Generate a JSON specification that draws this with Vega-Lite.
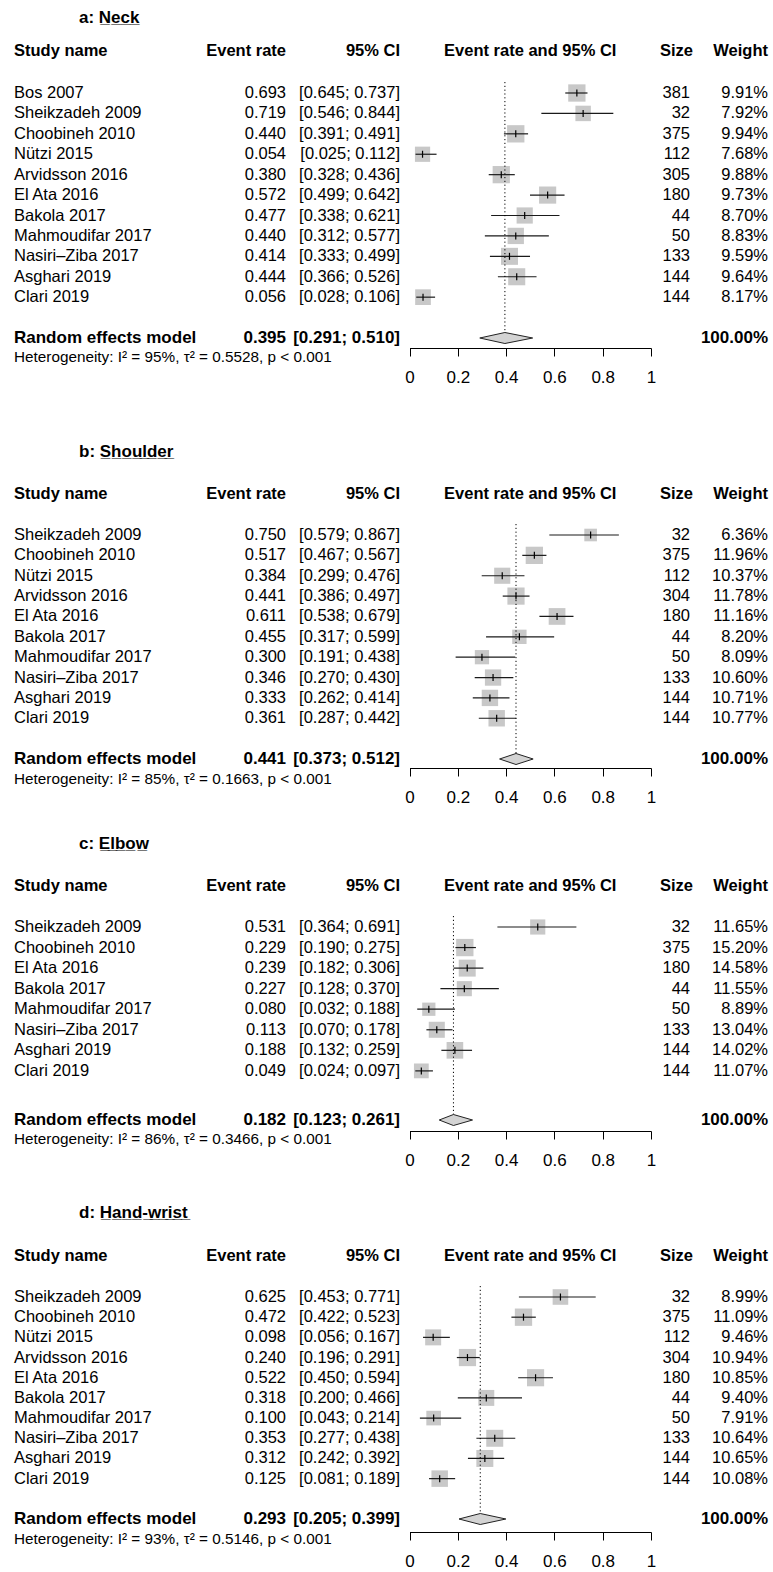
{
"$schema":"https://vega.github.io/schema/vega-lite/v6.json",
"padding":0,"spacing":0,"bounds":"flush","background":"white",
"resolve":{"scale":{"x":"independent","y":"independent","size":"independent","yOffset":"independent"}},
"config":{"view":{"stroke":null},"text":{"font":"Liberation Sans","fontSize":16.5,"color":"#000"},
"axis":{"grid":false,"domainColor":"#000","tickColor":"#000","tickSize":8,"labelFontSize":17,"labelFont":"Liberation Sans","labelColor":"#000","labelPadding":13,"labelFlush":false,"labelOverlap":false,"labelBound":false,"domainWidth":1,"tickWidth":1}},
"datasets":{
"a":[{"name":"Bos 2007","er":0.693,"lo":0.645,"hi":0.737,"n":381,"w":0.0991},{"name":"Sheikzadeh 2009","er":0.719,"lo":0.546,"hi":0.844,"n":32,"w":0.0792},{"name":"Choobineh 2010","er":0.440,"lo":0.391,"hi":0.491,"n":375,"w":0.0994},{"name":"Nützi 2015","er":0.054,"lo":0.025,"hi":0.112,"n":112,"w":0.0768},{"name":"Arvidsson 2016","er":0.380,"lo":0.328,"hi":0.436,"n":305,"w":0.0988},{"name":"El Ata 2016","er":0.572,"lo":0.499,"hi":0.642,"n":180,"w":0.0973},{"name":"Bakola 2017","er":0.477,"lo":0.338,"hi":0.621,"n":44,"w":0.0870},{"name":"Mahmoudifar 2017","er":0.440,"lo":0.312,"hi":0.577,"n":50,"w":0.0883},{"name":"Nasiri–Ziba 2017","er":0.414,"lo":0.333,"hi":0.499,"n":133,"w":0.0959},{"name":"Asghari 2019","er":0.444,"lo":0.366,"hi":0.526,"n":144,"w":0.0964},{"name":"Clari 2019","er":0.056,"lo":0.028,"hi":0.106,"n":144,"w":0.0817}],
"ar":[{"name":"Random effects model","er":0.395,"lo":0.291,"hi":0.510,"w":1,"het":"Heterogeneity: I² = 95%, τ² = 0.5528, p < 0.001","title":"a: N\u0332e\u0332c\u0332k\u0332"}],
"ad":[{"tri":"u","pos":"mid","v":0.291},{"tri":"u","pos":"top","v":0.395},{"tri":"u","pos":"mid","v":0.510},{"tri":"l","pos":"mid","v":0.291},{"tri":"l","pos":"bot","v":0.395},{"tri":"l","pos":"mid","v":0.510}],
"b":[{"name":"Sheikzadeh 2009","er":0.750,"lo":0.579,"hi":0.867,"n":32,"w":0.0636},{"name":"Choobineh 2010","er":0.517,"lo":0.467,"hi":0.567,"n":375,"w":0.1196},{"name":"Nützi 2015","er":0.384,"lo":0.299,"hi":0.476,"n":112,"w":0.1037},{"name":"Arvidsson 2016","er":0.441,"lo":0.386,"hi":0.497,"n":304,"w":0.1178},{"name":"El Ata 2016","er":0.611,"lo":0.538,"hi":0.679,"n":180,"w":0.1116},{"name":"Bakola 2017","er":0.455,"lo":0.317,"hi":0.599,"n":44,"w":0.0820},{"name":"Mahmoudifar 2017","er":0.300,"lo":0.191,"hi":0.438,"n":50,"w":0.0809},{"name":"Nasiri–Ziba 2017","er":0.346,"lo":0.270,"hi":0.430,"n":133,"w":0.1060},{"name":"Asghari 2019","er":0.333,"lo":0.262,"hi":0.414,"n":144,"w":0.1071},{"name":"Clari 2019","er":0.361,"lo":0.287,"hi":0.442,"n":144,"w":0.1077}],
"br":[{"name":"Random effects model","er":0.441,"lo":0.373,"hi":0.512,"w":1,"het":"Heterogeneity: I² = 85%, τ² = 0.1663, p < 0.001","title":"b: S\u0332h\u0332o\u0332u\u0332l\u0332d\u0332e\u0332r\u0332"}],
"bd":[{"tri":"u","pos":"mid","v":0.373},{"tri":"u","pos":"top","v":0.441},{"tri":"u","pos":"mid","v":0.512},{"tri":"l","pos":"mid","v":0.373},{"tri":"l","pos":"bot","v":0.441},{"tri":"l","pos":"mid","v":0.512}],
"c":[{"name":"Sheikzadeh 2009","er":0.531,"lo":0.364,"hi":0.691,"n":32,"w":0.1165},{"name":"Choobineh 2010","er":0.229,"lo":0.190,"hi":0.275,"n":375,"w":0.1520},{"name":"El Ata 2016","er":0.239,"lo":0.182,"hi":0.306,"n":180,"w":0.1458},{"name":"Bakola 2017","er":0.227,"lo":0.128,"hi":0.370,"n":44,"w":0.1155},{"name":"Mahmoudifar 2017","er":0.080,"lo":0.032,"hi":0.188,"n":50,"w":0.0889},{"name":"Nasiri–Ziba 2017","er":0.113,"lo":0.070,"hi":0.178,"n":133,"w":0.1304},{"name":"Asghari 2019","er":0.188,"lo":0.132,"hi":0.259,"n":144,"w":0.1402},{"name":"Clari 2019","er":0.049,"lo":0.024,"hi":0.097,"n":144,"w":0.1107}],
"cr":[{"name":"Random effects model","er":0.182,"lo":0.123,"hi":0.261,"w":1,"het":"Heterogeneity: I² = 86%, τ² = 0.3466, p < 0.001","title":"c: E\u0332l\u0332b\u0332o\u0332w\u0332"}],
"cd":[{"tri":"u","pos":"mid","v":0.123},{"tri":"u","pos":"top","v":0.182},{"tri":"u","pos":"mid","v":0.261},{"tri":"l","pos":"mid","v":0.123},{"tri":"l","pos":"bot","v":0.182},{"tri":"l","pos":"mid","v":0.261}],
"d":[{"name":"Sheikzadeh 2009","er":0.625,"lo":0.453,"hi":0.771,"n":32,"w":0.0899},{"name":"Choobineh 2010","er":0.472,"lo":0.422,"hi":0.523,"n":375,"w":0.1109},{"name":"Nützi 2015","er":0.098,"lo":0.056,"hi":0.167,"n":112,"w":0.0946},{"name":"Arvidsson 2016","er":0.240,"lo":0.196,"hi":0.291,"n":304,"w":0.1094},{"name":"El Ata 2016","er":0.522,"lo":0.450,"hi":0.594,"n":180,"w":0.1085},{"name":"Bakola 2017","er":0.318,"lo":0.200,"hi":0.466,"n":44,"w":0.0940},{"name":"Mahmoudifar 2017","er":0.100,"lo":0.043,"hi":0.214,"n":50,"w":0.0791},{"name":"Nasiri–Ziba 2017","er":0.353,"lo":0.277,"hi":0.438,"n":133,"w":0.1064},{"name":"Asghari 2019","er":0.312,"lo":0.242,"hi":0.392,"n":144,"w":0.1065},{"name":"Clari 2019","er":0.125,"lo":0.081,"hi":0.189,"n":144,"w":0.1008}],
"dr":[{"name":"Random effects model","er":0.293,"lo":0.205,"hi":0.399,"w":1,"het":"Heterogeneity: I² = 93%, τ² = 0.5146, p < 0.001","title":"d: H\u0332a\u0332n\u0332d\u0332-\u0332w\u0332r\u0332i\u0332s\u0332t\u0332"}],
"dd":[{"tri":"u","pos":"mid","v":0.205},{"tri":"u","pos":"top","v":0.293},{"tri":"u","pos":"mid","v":0.399},{"tri":"l","pos":"mid","v":0.205},{"tri":"l","pos":"bot","v":0.293},{"tri":"l","pos":"mid","v":0.399}]
},
"vconcat":[
{"width":773,"height":348,"layer":[
{"data":{"name":"a"},"mark":{"type":"square","color":"#c8c8c8","opacity":1},"encoding":{"x":{"field":"er","type":"quantitative","scale":{"domain":[0,1],"range":[409.5,651],"nice":false,"zero":false},"axis":{"values":[0,0.2,0.4,0.6,0.8,1],"format":"~g","title":null}},"y":{"field":"name","type":"nominal","scale":{"type":"point","padding":0,"range":[93,338],"domain":["Bos 2007","Sheikzadeh 2009","Choobineh 2010","Nützi 2015","Arvidsson 2016","El Ata 2016","Bakola 2017","Mahmoudifar 2017","Nasiri–Ziba 2017","Asghari 2019","Clari 2019","gap","Random effects model"]},"axis":null},"size":{"field":"w","type":"quantitative","scale":{"domain":[0,0.0994],"range":[0,300]},"legend":null}}},
{"data":{"name":"a"},"mark":{"type":"rule","color":"#1a1a1a","strokeWidth":1.2},"encoding":{"x":{"field":"lo","type":"quantitative","axis":{"values":[0,0.2,0.4,0.6,0.8,1],"format":"~g","title":null}},"x2":{"field":"hi"},"y":{"field":"name","type":"nominal","axis":null}}},
{"data":{"name":"a"},"mark":{"type":"tick","orient":"vertical","size":7,"thickness":1.2,"color":"#000","opacity":1},"encoding":{"x":{"field":"er","type":"quantitative","axis":{"values":[0,0.2,0.4,0.6,0.8,1],"format":"~g","title":null}},"y":{"field":"name","type":"nominal","axis":null}}},
{"data":{"name":"a"},"mark":{"type":"text","align":"left"},"encoding":{"x":{"datum":-1.6377,"type":"quantitative","axis":{"values":[0,0.2,0.4,0.6,0.8,1],"format":"~g","title":null}},"y":{"field":"name","type":"nominal","axis":null},"text":{"field":"name"}}},
{"data":{"name":"a"},"mark":{"type":"text","align":"right"},"encoding":{"x":{"datum":-0.5114,"type":"quantitative","axis":{"values":[0,0.2,0.4,0.6,0.8,1],"format":"~g","title":null}},"y":{"field":"name","type":"nominal","axis":null},"text":{"field":"er","type":"quantitative","format":".3f"}}},
{"data":{"name":"a"},"transform":[{"calculate":"'[' + format(datum.lo,'.3f') + '; ' + format(datum.hi,'.3f') + ']'","as":"ci"}],"mark":{"type":"text","align":"right"},"encoding":{"x":{"datum":-0.0393,"type":"quantitative","axis":{"values":[0,0.2,0.4,0.6,0.8,1],"format":"~g","title":null}},"y":{"field":"name","type":"nominal","axis":null},"text":{"field":"ci"}}},
{"data":{"name":"a"},"mark":{"type":"text","align":"right"},"encoding":{"x":{"datum":1.1615,"type":"quantitative","axis":{"values":[0,0.2,0.4,0.6,0.8,1],"format":"~g","title":null}},"y":{"field":"name","type":"nominal","axis":null},"text":{"field":"n","type":"quantitative","format":"d"}}},
{"data":{"name":"a"},"mark":{"type":"text","align":"right"},"encoding":{"x":{"datum":1.4845,"type":"quantitative","axis":{"values":[0,0.2,0.4,0.6,0.8,1],"format":"~g","title":null}},"y":{"field":"name","type":"nominal","axis":null},"text":{"field":"w","type":"quantitative","format":".2%"}}},
{"data":{"name":"ar"},"mark":{"type":"rule","color":"#000","strokeWidth":1,"strokeDash":[1.2,2.6],"yOffset":-11,"y2Offset":-5.5},"encoding":{"x":{"field":"er","type":"quantitative","axis":{"values":[0,0.2,0.4,0.6,0.8,1],"format":"~g","title":null}},"y":{"datum":"Bos 2007","type":"nominal","axis":null},"y2":{"datum":"Random effects model"}}},
{"data":{"name":"ad"},"mark":{"type":"line","fill":"#d3d3d3","stroke":"#222","strokeWidth":1},"encoding":{"x":{"field":"v","type":"quantitative","axis":{"values":[0,0.2,0.4,0.6,0.8,1],"format":"~g","title":null}},"y":{"datum":"Random effects model","type":"nominal","axis":null},"yOffset":{"field":"pos","type":"nominal","scale":{"type":"point","domain":["top","mid","bot"],"range":[-5.5,5.5],"padding":0}},"detail":{"field":"tri"}}},
{"data":{"name":"ar"},"mark":{"type":"text","align":"left","fontWeight":"bold","fontSize":17},"encoding":{"x":{"datum":-1.6377,"type":"quantitative","axis":{"values":[0,0.2,0.4,0.6,0.8,1],"format":"~g","title":null}},"y":{"datum":"Random effects model","type":"nominal","axis":null},"text":{"field":"name"}}},
{"data":{"name":"ar"},"mark":{"type":"text","align":"right","fontWeight":"bold","fontSize":17},"encoding":{"x":{"datum":-0.5114,"type":"quantitative","axis":{"values":[0,0.2,0.4,0.6,0.8,1],"format":"~g","title":null}},"y":{"datum":"Random effects model","type":"nominal","axis":null},"text":{"field":"er","type":"quantitative","format":".3f"}}},
{"data":{"name":"ar"},"transform":[{"calculate":"'[' + format(datum.lo,'.3f') + '; ' + format(datum.hi,'.3f') + ']'","as":"ci"}],"mark":{"type":"text","align":"right","fontWeight":"bold","fontSize":17},"encoding":{"x":{"datum":-0.0393,"type":"quantitative","axis":{"values":[0,0.2,0.4,0.6,0.8,1],"format":"~g","title":null}},"y":{"datum":"Random effects model","type":"nominal","axis":null},"text":{"field":"ci"}}},
{"data":{"name":"ar"},"mark":{"type":"text","align":"right","fontWeight":"bold","fontSize":17},"encoding":{"x":{"datum":1.4845,"type":"quantitative","axis":{"values":[0,0.2,0.4,0.6,0.8,1],"format":"~g","title":null}},"y":{"datum":"Random effects model","type":"nominal","axis":null},"text":{"field":"w","type":"quantitative","format":".2%"}}},
{"data":{"name":"ar"},"mark":{"type":"text","align":"left","fontSize":15.3,"dy":19},"encoding":{"x":{"datum":-1.6377,"type":"quantitative","axis":{"values":[0,0.2,0.4,0.6,0.8,1],"format":"~g","title":null}},"y":{"datum":"Random effects model","type":"nominal","axis":null},"text":{"field":"het"}}},
{"data":{"name":"ar"},"mark":{"type":"text","align":"left","fontWeight":"bold","fontSize":17,"dy":-75},"encoding":{"x":{"datum":-1.3685,"type":"quantitative","axis":{"values":[0,0.2,0.4,0.6,0.8,1],"format":"~g","title":null}},"y":{"datum":"Bos 2007","type":"nominal","axis":null},"text":{"field":"title"}}},
{"data":{"name":"ar"},"mark":{"type":"text","align":"left","fontWeight":"bold","dy":-42,"text":"Study name"},"encoding":{"x":{"datum":-1.6377,"type":"quantitative","axis":{"values":[0,0.2,0.4,0.6,0.8,1],"format":"~g","title":null}},"y":{"datum":"Bos 2007","type":"nominal","axis":null}}},
{"data":{"name":"ar"},"mark":{"type":"text","align":"right","fontWeight":"bold","dy":-42,"text":"Event rate"},"encoding":{"x":{"datum":-0.5114,"type":"quantitative","axis":{"values":[0,0.2,0.4,0.6,0.8,1],"format":"~g","title":null}},"y":{"datum":"Bos 2007","type":"nominal","axis":null}}},
{"data":{"name":"ar"},"mark":{"type":"text","align":"right","fontWeight":"bold","dy":-42,"text":"95% CI"},"encoding":{"x":{"datum":-0.0393,"type":"quantitative","axis":{"values":[0,0.2,0.4,0.6,0.8,1],"format":"~g","title":null}},"y":{"datum":"Bos 2007","type":"nominal","axis":null}}},
{"data":{"name":"ar"},"mark":{"type":"text","align":"center","fontWeight":"bold","dy":-42,"text":"Event rate and 95% CI"},"encoding":{"x":{"datum":0.5,"type":"quantitative","axis":{"values":[0,0.2,0.4,0.6,0.8,1],"format":"~g","title":null}},"y":{"datum":"Bos 2007","type":"nominal","axis":null}}},
{"data":{"name":"ar"},"mark":{"type":"text","align":"right","fontWeight":"bold","dy":-42,"text":"Size"},"encoding":{"x":{"datum":1.1739,"type":"quantitative","axis":{"values":[0,0.2,0.4,0.6,0.8,1],"format":"~g","title":null}},"y":{"datum":"Bos 2007","type":"nominal","axis":null}}},
{"data":{"name":"ar"},"mark":{"type":"text","align":"right","fontWeight":"bold","dy":-42,"text":"Weight"},"encoding":{"x":{"datum":1.4845,"type":"quantitative","axis":{"values":[0,0.2,0.4,0.6,0.8,1],"format":"~g","title":null}},"y":{"datum":"Bos 2007","type":"nominal","axis":null}}}
]},
{"width":773,"height":420,"layer":[
{"data":{"name":"b"},"mark":{"type":"square","color":"#c8c8c8","opacity":1},"encoding":{"x":{"field":"er","type":"quantitative","scale":{"domain":[0,1],"range":[409.5,651],"nice":false,"zero":false},"axis":{"values":[0,0.2,0.4,0.6,0.8,1],"format":"~g","title":null}},"y":{"field":"name","type":"nominal","scale":{"type":"point","padding":0,"range":[187,411],"domain":["Sheikzadeh 2009","Choobineh 2010","Nützi 2015","Arvidsson 2016","El Ata 2016","Bakola 2017","Mahmoudifar 2017","Nasiri–Ziba 2017","Asghari 2019","Clari 2019","gap","Random effects model"]},"axis":null},"size":{"field":"w","type":"quantitative","scale":{"domain":[0,0.1196],"range":[0,300]},"legend":null}}},
{"data":{"name":"b"},"mark":{"type":"rule","color":"#1a1a1a","strokeWidth":1.2},"encoding":{"x":{"field":"lo","type":"quantitative","axis":{"values":[0,0.2,0.4,0.6,0.8,1],"format":"~g","title":null}},"x2":{"field":"hi"},"y":{"field":"name","type":"nominal","axis":null}}},
{"data":{"name":"b"},"mark":{"type":"tick","orient":"vertical","size":7,"thickness":1.2,"color":"#000","opacity":1},"encoding":{"x":{"field":"er","type":"quantitative","axis":{"values":[0,0.2,0.4,0.6,0.8,1],"format":"~g","title":null}},"y":{"field":"name","type":"nominal","axis":null}}},
{"data":{"name":"b"},"mark":{"type":"text","align":"left"},"encoding":{"x":{"datum":-1.6377,"type":"quantitative","axis":{"values":[0,0.2,0.4,0.6,0.8,1],"format":"~g","title":null}},"y":{"field":"name","type":"nominal","axis":null},"text":{"field":"name"}}},
{"data":{"name":"b"},"mark":{"type":"text","align":"right"},"encoding":{"x":{"datum":-0.5114,"type":"quantitative","axis":{"values":[0,0.2,0.4,0.6,0.8,1],"format":"~g","title":null}},"y":{"field":"name","type":"nominal","axis":null},"text":{"field":"er","type":"quantitative","format":".3f"}}},
{"data":{"name":"b"},"transform":[{"calculate":"'[' + format(datum.lo,'.3f') + '; ' + format(datum.hi,'.3f') + ']'","as":"ci"}],"mark":{"type":"text","align":"right"},"encoding":{"x":{"datum":-0.0393,"type":"quantitative","axis":{"values":[0,0.2,0.4,0.6,0.8,1],"format":"~g","title":null}},"y":{"field":"name","type":"nominal","axis":null},"text":{"field":"ci"}}},
{"data":{"name":"b"},"mark":{"type":"text","align":"right"},"encoding":{"x":{"datum":1.1615,"type":"quantitative","axis":{"values":[0,0.2,0.4,0.6,0.8,1],"format":"~g","title":null}},"y":{"field":"name","type":"nominal","axis":null},"text":{"field":"n","type":"quantitative","format":"d"}}},
{"data":{"name":"b"},"mark":{"type":"text","align":"right"},"encoding":{"x":{"datum":1.4845,"type":"quantitative","axis":{"values":[0,0.2,0.4,0.6,0.8,1],"format":"~g","title":null}},"y":{"field":"name","type":"nominal","axis":null},"text":{"field":"w","type":"quantitative","format":".2%"}}},
{"data":{"name":"br"},"mark":{"type":"rule","color":"#000","strokeWidth":1,"strokeDash":[1.2,2.6],"yOffset":-11,"y2Offset":-5.5},"encoding":{"x":{"field":"er","type":"quantitative","axis":{"values":[0,0.2,0.4,0.6,0.8,1],"format":"~g","title":null}},"y":{"datum":"Sheikzadeh 2009","type":"nominal","axis":null},"y2":{"datum":"Random effects model"}}},
{"data":{"name":"bd"},"mark":{"type":"line","fill":"#d3d3d3","stroke":"#222","strokeWidth":1},"encoding":{"x":{"field":"v","type":"quantitative","axis":{"values":[0,0.2,0.4,0.6,0.8,1],"format":"~g","title":null}},"y":{"datum":"Random effects model","type":"nominal","axis":null},"yOffset":{"field":"pos","type":"nominal","scale":{"type":"point","domain":["top","mid","bot"],"range":[-5.5,5.5],"padding":0}},"detail":{"field":"tri"}}},
{"data":{"name":"br"},"mark":{"type":"text","align":"left","fontWeight":"bold","fontSize":17},"encoding":{"x":{"datum":-1.6377,"type":"quantitative","axis":{"values":[0,0.2,0.4,0.6,0.8,1],"format":"~g","title":null}},"y":{"datum":"Random effects model","type":"nominal","axis":null},"text":{"field":"name"}}},
{"data":{"name":"br"},"mark":{"type":"text","align":"right","fontWeight":"bold","fontSize":17},"encoding":{"x":{"datum":-0.5114,"type":"quantitative","axis":{"values":[0,0.2,0.4,0.6,0.8,1],"format":"~g","title":null}},"y":{"datum":"Random effects model","type":"nominal","axis":null},"text":{"field":"er","type":"quantitative","format":".3f"}}},
{"data":{"name":"br"},"transform":[{"calculate":"'[' + format(datum.lo,'.3f') + '; ' + format(datum.hi,'.3f') + ']'","as":"ci"}],"mark":{"type":"text","align":"right","fontWeight":"bold","fontSize":17},"encoding":{"x":{"datum":-0.0393,"type":"quantitative","axis":{"values":[0,0.2,0.4,0.6,0.8,1],"format":"~g","title":null}},"y":{"datum":"Random effects model","type":"nominal","axis":null},"text":{"field":"ci"}}},
{"data":{"name":"br"},"mark":{"type":"text","align":"right","fontWeight":"bold","fontSize":17},"encoding":{"x":{"datum":1.4845,"type":"quantitative","axis":{"values":[0,0.2,0.4,0.6,0.8,1],"format":"~g","title":null}},"y":{"datum":"Random effects model","type":"nominal","axis":null},"text":{"field":"w","type":"quantitative","format":".2%"}}},
{"data":{"name":"br"},"mark":{"type":"text","align":"left","fontSize":15.3,"dy":20},"encoding":{"x":{"datum":-1.6377,"type":"quantitative","axis":{"values":[0,0.2,0.4,0.6,0.8,1],"format":"~g","title":null}},"y":{"datum":"Random effects model","type":"nominal","axis":null},"text":{"field":"het"}}},
{"data":{"name":"br"},"mark":{"type":"text","align":"left","fontWeight":"bold","fontSize":17,"dy":-83},"encoding":{"x":{"datum":-1.3685,"type":"quantitative","axis":{"values":[0,0.2,0.4,0.6,0.8,1],"format":"~g","title":null}},"y":{"datum":"Sheikzadeh 2009","type":"nominal","axis":null},"text":{"field":"title"}}},
{"data":{"name":"br"},"mark":{"type":"text","align":"left","fontWeight":"bold","dy":-41,"text":"Study name"},"encoding":{"x":{"datum":-1.6377,"type":"quantitative","axis":{"values":[0,0.2,0.4,0.6,0.8,1],"format":"~g","title":null}},"y":{"datum":"Sheikzadeh 2009","type":"nominal","axis":null}}},
{"data":{"name":"br"},"mark":{"type":"text","align":"right","fontWeight":"bold","dy":-41,"text":"Event rate"},"encoding":{"x":{"datum":-0.5114,"type":"quantitative","axis":{"values":[0,0.2,0.4,0.6,0.8,1],"format":"~g","title":null}},"y":{"datum":"Sheikzadeh 2009","type":"nominal","axis":null}}},
{"data":{"name":"br"},"mark":{"type":"text","align":"right","fontWeight":"bold","dy":-41,"text":"95% CI"},"encoding":{"x":{"datum":-0.0393,"type":"quantitative","axis":{"values":[0,0.2,0.4,0.6,0.8,1],"format":"~g","title":null}},"y":{"datum":"Sheikzadeh 2009","type":"nominal","axis":null}}},
{"data":{"name":"br"},"mark":{"type":"text","align":"center","fontWeight":"bold","dy":-41,"text":"Event rate and 95% CI"},"encoding":{"x":{"datum":0.5,"type":"quantitative","axis":{"values":[0,0.2,0.4,0.6,0.8,1],"format":"~g","title":null}},"y":{"datum":"Sheikzadeh 2009","type":"nominal","axis":null}}},
{"data":{"name":"br"},"mark":{"type":"text","align":"right","fontWeight":"bold","dy":-41,"text":"Size"},"encoding":{"x":{"datum":1.1739,"type":"quantitative","axis":{"values":[0,0.2,0.4,0.6,0.8,1],"format":"~g","title":null}},"y":{"datum":"Sheikzadeh 2009","type":"nominal","axis":null}}},
{"data":{"name":"br"},"mark":{"type":"text","align":"right","fontWeight":"bold","dy":-41,"text":"Weight"},"encoding":{"x":{"datum":1.4845,"type":"quantitative","axis":{"values":[0,0.2,0.4,0.6,0.8,1],"format":"~g","title":null}},"y":{"datum":"Sheikzadeh 2009","type":"nominal","axis":null}}}
]},
{"width":773,"height":363,"layer":[
{"data":{"name":"c"},"mark":{"type":"square","color":"#c8c8c8","opacity":1},"encoding":{"x":{"field":"er","type":"quantitative","scale":{"domain":[0,1],"range":[409.5,651],"nice":false,"zero":false},"axis":{"values":[0,0.2,0.4,0.6,0.8,1],"format":"~g","title":null}},"y":{"field":"name","type":"nominal","scale":{"type":"point","padding":0,"range":[159,344],"domain":["Sheikzadeh 2009","Choobineh 2010","El Ata 2016","Bakola 2017","Mahmoudifar 2017","Nasiri–Ziba 2017","Asghari 2019","Clari 2019","gap","Random effects model"]},"axis":null},"size":{"field":"w","type":"quantitative","scale":{"domain":[0,0.152],"range":[0,300]},"legend":null}}},
{"data":{"name":"c"},"mark":{"type":"rule","color":"#1a1a1a","strokeWidth":1.2},"encoding":{"x":{"field":"lo","type":"quantitative","axis":{"values":[0,0.2,0.4,0.6,0.8,1],"format":"~g","title":null}},"x2":{"field":"hi"},"y":{"field":"name","type":"nominal","axis":null}}},
{"data":{"name":"c"},"mark":{"type":"tick","orient":"vertical","size":7,"thickness":1.2,"color":"#000","opacity":1},"encoding":{"x":{"field":"er","type":"quantitative","axis":{"values":[0,0.2,0.4,0.6,0.8,1],"format":"~g","title":null}},"y":{"field":"name","type":"nominal","axis":null}}},
{"data":{"name":"c"},"mark":{"type":"text","align":"left"},"encoding":{"x":{"datum":-1.6377,"type":"quantitative","axis":{"values":[0,0.2,0.4,0.6,0.8,1],"format":"~g","title":null}},"y":{"field":"name","type":"nominal","axis":null},"text":{"field":"name"}}},
{"data":{"name":"c"},"mark":{"type":"text","align":"right"},"encoding":{"x":{"datum":-0.5114,"type":"quantitative","axis":{"values":[0,0.2,0.4,0.6,0.8,1],"format":"~g","title":null}},"y":{"field":"name","type":"nominal","axis":null},"text":{"field":"er","type":"quantitative","format":".3f"}}},
{"data":{"name":"c"},"transform":[{"calculate":"'[' + format(datum.lo,'.3f') + '; ' + format(datum.hi,'.3f') + ']'","as":"ci"}],"mark":{"type":"text","align":"right"},"encoding":{"x":{"datum":-0.0393,"type":"quantitative","axis":{"values":[0,0.2,0.4,0.6,0.8,1],"format":"~g","title":null}},"y":{"field":"name","type":"nominal","axis":null},"text":{"field":"ci"}}},
{"data":{"name":"c"},"mark":{"type":"text","align":"right"},"encoding":{"x":{"datum":1.1615,"type":"quantitative","axis":{"values":[0,0.2,0.4,0.6,0.8,1],"format":"~g","title":null}},"y":{"field":"name","type":"nominal","axis":null},"text":{"field":"n","type":"quantitative","format":"d"}}},
{"data":{"name":"c"},"mark":{"type":"text","align":"right"},"encoding":{"x":{"datum":1.4845,"type":"quantitative","axis":{"values":[0,0.2,0.4,0.6,0.8,1],"format":"~g","title":null}},"y":{"field":"name","type":"nominal","axis":null},"text":{"field":"w","type":"quantitative","format":".2%"}}},
{"data":{"name":"cr"},"mark":{"type":"rule","color":"#000","strokeWidth":1,"strokeDash":[1.2,2.6],"yOffset":-11,"y2Offset":2.5},"encoding":{"x":{"field":"er","type":"quantitative","axis":{"values":[0,0.2,0.4,0.6,0.8,1],"format":"~g","title":null}},"y":{"datum":"Sheikzadeh 2009","type":"nominal","axis":null},"y2":{"datum":"Random effects model"}}},
{"data":{"name":"cd"},"mark":{"type":"line","fill":"#d3d3d3","stroke":"#222","strokeWidth":1},"encoding":{"x":{"field":"v","type":"quantitative","axis":{"values":[0,0.2,0.4,0.6,0.8,1],"format":"~g","title":null}},"y":{"datum":"Random effects model","type":"nominal","axis":null},"yOffset":{"field":"pos","type":"nominal","scale":{"type":"point","domain":["top","mid","bot"],"range":[2.5,13.5],"padding":0}},"detail":{"field":"tri"}}},
{"data":{"name":"cr"},"mark":{"type":"text","align":"left","fontWeight":"bold","fontSize":17,"dy":8},"encoding":{"x":{"datum":-1.6377,"type":"quantitative","axis":{"values":[0,0.2,0.4,0.6,0.8,1],"format":"~g","title":null}},"y":{"datum":"Random effects model","type":"nominal","axis":null},"text":{"field":"name"}}},
{"data":{"name":"cr"},"mark":{"type":"text","align":"right","fontWeight":"bold","fontSize":17,"dy":8},"encoding":{"x":{"datum":-0.5114,"type":"quantitative","axis":{"values":[0,0.2,0.4,0.6,0.8,1],"format":"~g","title":null}},"y":{"datum":"Random effects model","type":"nominal","axis":null},"text":{"field":"er","type":"quantitative","format":".3f"}}},
{"data":{"name":"cr"},"transform":[{"calculate":"'[' + format(datum.lo,'.3f') + '; ' + format(datum.hi,'.3f') + ']'","as":"ci"}],"mark":{"type":"text","align":"right","fontWeight":"bold","fontSize":17,"dy":8},"encoding":{"x":{"datum":-0.0393,"type":"quantitative","axis":{"values":[0,0.2,0.4,0.6,0.8,1],"format":"~g","title":null}},"y":{"datum":"Random effects model","type":"nominal","axis":null},"text":{"field":"ci"}}},
{"data":{"name":"cr"},"mark":{"type":"text","align":"right","fontWeight":"bold","fontSize":17,"dy":8},"encoding":{"x":{"datum":1.4845,"type":"quantitative","axis":{"values":[0,0.2,0.4,0.6,0.8,1],"format":"~g","title":null}},"y":{"datum":"Random effects model","type":"nominal","axis":null},"text":{"field":"w","type":"quantitative","format":".2%"}}},
{"data":{"name":"cr"},"mark":{"type":"text","align":"left","fontSize":15.3,"dy":27},"encoding":{"x":{"datum":-1.6377,"type":"quantitative","axis":{"values":[0,0.2,0.4,0.6,0.8,1],"format":"~g","title":null}},"y":{"datum":"Random effects model","type":"nominal","axis":null},"text":{"field":"het"}}},
{"data":{"name":"cr"},"mark":{"type":"text","align":"left","fontWeight":"bold","fontSize":17,"dy":-83},"encoding":{"x":{"datum":-1.3685,"type":"quantitative","axis":{"values":[0,0.2,0.4,0.6,0.8,1],"format":"~g","title":null}},"y":{"datum":"Sheikzadeh 2009","type":"nominal","axis":null},"text":{"field":"title"}}},
{"data":{"name":"cr"},"mark":{"type":"text","align":"left","fontWeight":"bold","dy":-41,"text":"Study name"},"encoding":{"x":{"datum":-1.6377,"type":"quantitative","axis":{"values":[0,0.2,0.4,0.6,0.8,1],"format":"~g","title":null}},"y":{"datum":"Sheikzadeh 2009","type":"nominal","axis":null}}},
{"data":{"name":"cr"},"mark":{"type":"text","align":"right","fontWeight":"bold","dy":-41,"text":"Event rate"},"encoding":{"x":{"datum":-0.5114,"type":"quantitative","axis":{"values":[0,0.2,0.4,0.6,0.8,1],"format":"~g","title":null}},"y":{"datum":"Sheikzadeh 2009","type":"nominal","axis":null}}},
{"data":{"name":"cr"},"mark":{"type":"text","align":"right","fontWeight":"bold","dy":-41,"text":"95% CI"},"encoding":{"x":{"datum":-0.0393,"type":"quantitative","axis":{"values":[0,0.2,0.4,0.6,0.8,1],"format":"~g","title":null}},"y":{"datum":"Sheikzadeh 2009","type":"nominal","axis":null}}},
{"data":{"name":"cr"},"mark":{"type":"text","align":"center","fontWeight":"bold","dy":-41,"text":"Event rate and 95% CI"},"encoding":{"x":{"datum":0.5,"type":"quantitative","axis":{"values":[0,0.2,0.4,0.6,0.8,1],"format":"~g","title":null}},"y":{"datum":"Sheikzadeh 2009","type":"nominal","axis":null}}},
{"data":{"name":"cr"},"mark":{"type":"text","align":"right","fontWeight":"bold","dy":-41,"text":"Size"},"encoding":{"x":{"datum":1.1739,"type":"quantitative","axis":{"values":[0,0.2,0.4,0.6,0.8,1],"format":"~g","title":null}},"y":{"datum":"Sheikzadeh 2009","type":"nominal","axis":null}}},
{"data":{"name":"cr"},"mark":{"type":"text","align":"right","fontWeight":"bold","dy":-41,"text":"Weight"},"encoding":{"x":{"datum":1.4845,"type":"quantitative","axis":{"values":[0,0.2,0.4,0.6,0.8,1],"format":"~g","title":null}},"y":{"datum":"Sheikzadeh 2009","type":"nominal","axis":null}}}
]},
{"width":773,"height":401,"layer":[
{"data":{"name":"d"},"mark":{"type":"square","color":"#c8c8c8","opacity":1},"encoding":{"x":{"field":"er","type":"quantitative","scale":{"domain":[0,1],"range":[409.5,651],"nice":false,"zero":false},"axis":{"values":[0,0.2,0.4,0.6,0.8,1],"format":"~g","title":null}},"y":{"field":"name","type":"nominal","scale":{"type":"point","padding":0,"range":[166,388],"domain":["Sheikzadeh 2009","Choobineh 2010","Nützi 2015","Arvidsson 2016","El Ata 2016","Bakola 2017","Mahmoudifar 2017","Nasiri–Ziba 2017","Asghari 2019","Clari 2019","gap","Random effects model"]},"axis":null},"size":{"field":"w","type":"quantitative","scale":{"domain":[0,0.1109],"range":[0,300]},"legend":null}}},
{"data":{"name":"d"},"mark":{"type":"rule","color":"#1a1a1a","strokeWidth":1.2},"encoding":{"x":{"field":"lo","type":"quantitative","axis":{"values":[0,0.2,0.4,0.6,0.8,1],"format":"~g","title":null}},"x2":{"field":"hi"},"y":{"field":"name","type":"nominal","axis":null}}},
{"data":{"name":"d"},"mark":{"type":"tick","orient":"vertical","size":7,"thickness":1.2,"color":"#000","opacity":1},"encoding":{"x":{"field":"er","type":"quantitative","axis":{"values":[0,0.2,0.4,0.6,0.8,1],"format":"~g","title":null}},"y":{"field":"name","type":"nominal","axis":null}}},
{"data":{"name":"d"},"mark":{"type":"text","align":"left"},"encoding":{"x":{"datum":-1.6377,"type":"quantitative","axis":{"values":[0,0.2,0.4,0.6,0.8,1],"format":"~g","title":null}},"y":{"field":"name","type":"nominal","axis":null},"text":{"field":"name"}}},
{"data":{"name":"d"},"mark":{"type":"text","align":"right"},"encoding":{"x":{"datum":-0.5114,"type":"quantitative","axis":{"values":[0,0.2,0.4,0.6,0.8,1],"format":"~g","title":null}},"y":{"field":"name","type":"nominal","axis":null},"text":{"field":"er","type":"quantitative","format":".3f"}}},
{"data":{"name":"d"},"transform":[{"calculate":"'[' + format(datum.lo,'.3f') + '; ' + format(datum.hi,'.3f') + ']'","as":"ci"}],"mark":{"type":"text","align":"right"},"encoding":{"x":{"datum":-0.0393,"type":"quantitative","axis":{"values":[0,0.2,0.4,0.6,0.8,1],"format":"~g","title":null}},"y":{"field":"name","type":"nominal","axis":null},"text":{"field":"ci"}}},
{"data":{"name":"d"},"mark":{"type":"text","align":"right"},"encoding":{"x":{"datum":1.1615,"type":"quantitative","axis":{"values":[0,0.2,0.4,0.6,0.8,1],"format":"~g","title":null}},"y":{"field":"name","type":"nominal","axis":null},"text":{"field":"n","type":"quantitative","format":"d"}}},
{"data":{"name":"d"},"mark":{"type":"text","align":"right"},"encoding":{"x":{"datum":1.4845,"type":"quantitative","axis":{"values":[0,0.2,0.4,0.6,0.8,1],"format":"~g","title":null}},"y":{"field":"name","type":"nominal","axis":null},"text":{"field":"w","type":"quantitative","format":".2%"}}},
{"data":{"name":"dr"},"mark":{"type":"rule","color":"#000","strokeWidth":1,"strokeDash":[1.2,2.6],"yOffset":-11,"y2Offset":-5.5},"encoding":{"x":{"field":"er","type":"quantitative","axis":{"values":[0,0.2,0.4,0.6,0.8,1],"format":"~g","title":null}},"y":{"datum":"Sheikzadeh 2009","type":"nominal","axis":null},"y2":{"datum":"Random effects model"}}},
{"data":{"name":"dd"},"mark":{"type":"line","fill":"#d3d3d3","stroke":"#222","strokeWidth":1},"encoding":{"x":{"field":"v","type":"quantitative","axis":{"values":[0,0.2,0.4,0.6,0.8,1],"format":"~g","title":null}},"y":{"datum":"Random effects model","type":"nominal","axis":null},"yOffset":{"field":"pos","type":"nominal","scale":{"type":"point","domain":["top","mid","bot"],"range":[-5.5,5.5],"padding":0}},"detail":{"field":"tri"}}},
{"data":{"name":"dr"},"mark":{"type":"text","align":"left","fontWeight":"bold","fontSize":17},"encoding":{"x":{"datum":-1.6377,"type":"quantitative","axis":{"values":[0,0.2,0.4,0.6,0.8,1],"format":"~g","title":null}},"y":{"datum":"Random effects model","type":"nominal","axis":null},"text":{"field":"name"}}},
{"data":{"name":"dr"},"mark":{"type":"text","align":"right","fontWeight":"bold","fontSize":17},"encoding":{"x":{"datum":-0.5114,"type":"quantitative","axis":{"values":[0,0.2,0.4,0.6,0.8,1],"format":"~g","title":null}},"y":{"datum":"Random effects model","type":"nominal","axis":null},"text":{"field":"er","type":"quantitative","format":".3f"}}},
{"data":{"name":"dr"},"transform":[{"calculate":"'[' + format(datum.lo,'.3f') + '; ' + format(datum.hi,'.3f') + ']'","as":"ci"}],"mark":{"type":"text","align":"right","fontWeight":"bold","fontSize":17},"encoding":{"x":{"datum":-0.0393,"type":"quantitative","axis":{"values":[0,0.2,0.4,0.6,0.8,1],"format":"~g","title":null}},"y":{"datum":"Random effects model","type":"nominal","axis":null},"text":{"field":"ci"}}},
{"data":{"name":"dr"},"mark":{"type":"text","align":"right","fontWeight":"bold","fontSize":17},"encoding":{"x":{"datum":1.4845,"type":"quantitative","axis":{"values":[0,0.2,0.4,0.6,0.8,1],"format":"~g","title":null}},"y":{"datum":"Random effects model","type":"nominal","axis":null},"text":{"field":"w","type":"quantitative","format":".2%"}}},
{"data":{"name":"dr"},"mark":{"type":"text","align":"left","fontSize":15.3,"dy":20},"encoding":{"x":{"datum":-1.6377,"type":"quantitative","axis":{"values":[0,0.2,0.4,0.6,0.8,1],"format":"~g","title":null}},"y":{"datum":"Random effects model","type":"nominal","axis":null},"text":{"field":"het"}}},
{"data":{"name":"dr"},"mark":{"type":"text","align":"left","fontWeight":"bold","fontSize":17,"dy":-84},"encoding":{"x":{"datum":-1.3685,"type":"quantitative","axis":{"values":[0,0.2,0.4,0.6,0.8,1],"format":"~g","title":null}},"y":{"datum":"Sheikzadeh 2009","type":"nominal","axis":null},"text":{"field":"title"}}},
{"data":{"name":"dr"},"mark":{"type":"text","align":"left","fontWeight":"bold","dy":-41,"text":"Study name"},"encoding":{"x":{"datum":-1.6377,"type":"quantitative","axis":{"values":[0,0.2,0.4,0.6,0.8,1],"format":"~g","title":null}},"y":{"datum":"Sheikzadeh 2009","type":"nominal","axis":null}}},
{"data":{"name":"dr"},"mark":{"type":"text","align":"right","fontWeight":"bold","dy":-41,"text":"Event rate"},"encoding":{"x":{"datum":-0.5114,"type":"quantitative","axis":{"values":[0,0.2,0.4,0.6,0.8,1],"format":"~g","title":null}},"y":{"datum":"Sheikzadeh 2009","type":"nominal","axis":null}}},
{"data":{"name":"dr"},"mark":{"type":"text","align":"right","fontWeight":"bold","dy":-41,"text":"95% CI"},"encoding":{"x":{"datum":-0.0393,"type":"quantitative","axis":{"values":[0,0.2,0.4,0.6,0.8,1],"format":"~g","title":null}},"y":{"datum":"Sheikzadeh 2009","type":"nominal","axis":null}}},
{"data":{"name":"dr"},"mark":{"type":"text","align":"center","fontWeight":"bold","dy":-41,"text":"Event rate and 95% CI"},"encoding":{"x":{"datum":0.5,"type":"quantitative","axis":{"values":[0,0.2,0.4,0.6,0.8,1],"format":"~g","title":null}},"y":{"datum":"Sheikzadeh 2009","type":"nominal","axis":null}}},
{"data":{"name":"dr"},"mark":{"type":"text","align":"right","fontWeight":"bold","dy":-41,"text":"Size"},"encoding":{"x":{"datum":1.1739,"type":"quantitative","axis":{"values":[0,0.2,0.4,0.6,0.8,1],"format":"~g","title":null}},"y":{"datum":"Sheikzadeh 2009","type":"nominal","axis":null}}},
{"data":{"name":"dr"},"mark":{"type":"text","align":"right","fontWeight":"bold","dy":-41,"text":"Weight"},"encoding":{"x":{"datum":1.4845,"type":"quantitative","axis":{"values":[0,0.2,0.4,0.6,0.8,1],"format":"~g","title":null}},"y":{"datum":"Sheikzadeh 2009","type":"nominal","axis":null}}}
]}
]
}
